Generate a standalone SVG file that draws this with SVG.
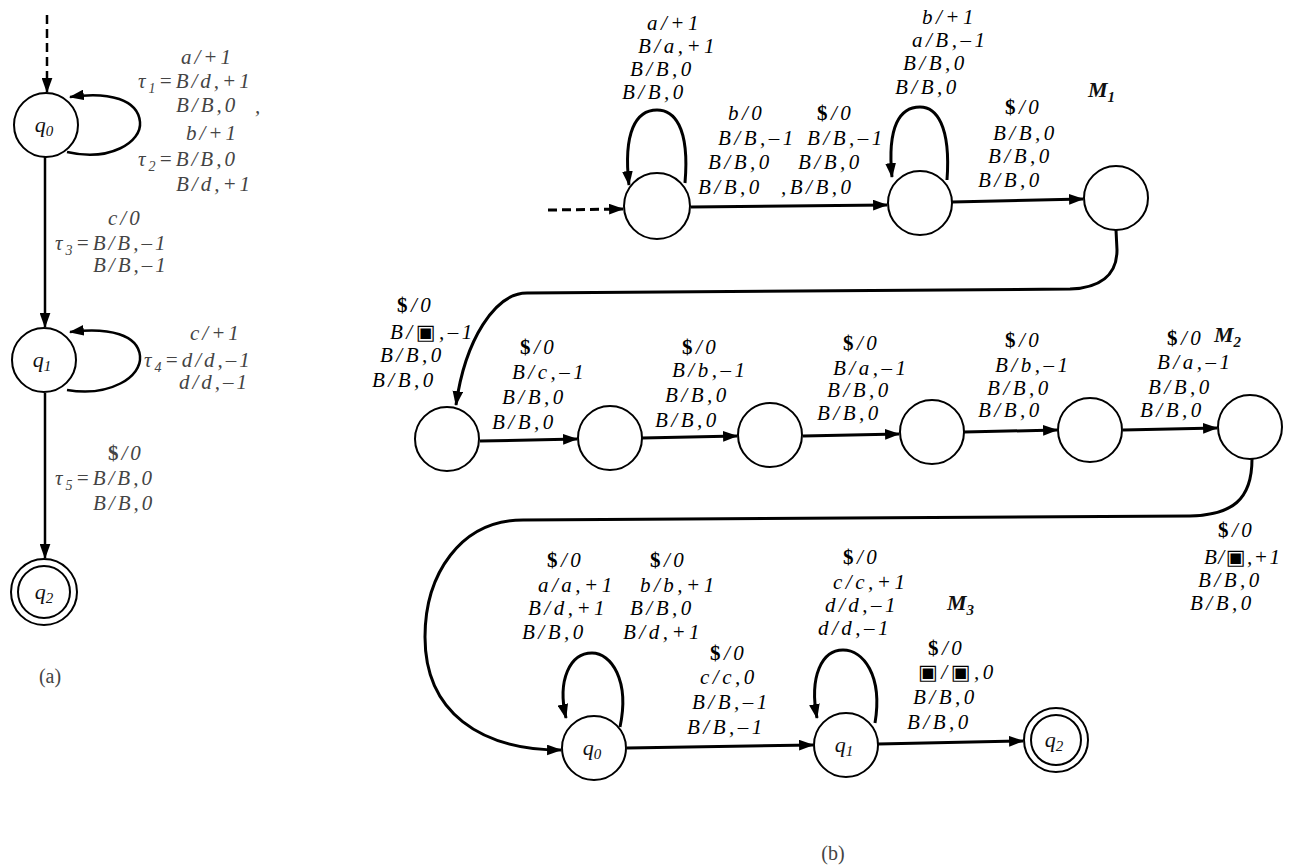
<svg xmlns="http://www.w3.org/2000/svg" width="1290" height="865" viewBox="0 0 1290 865">
<style>
.t{font-family:"Liberation Serif","DejaVu Serif",serif;font-style:italic;font-size:21px;letter-spacing:3.5px;fill:#000}
.ta{font-family:"Liberation Serif","DejaVu Serif",serif;font-style:italic;font-size:21px;letter-spacing:3px;fill:#444}
.s{font-style:normal;font-weight:bold}
.nl{font-family:"Liberation Serif","DejaVu Serif",serif;font-style:italic;font-size:22px;fill:#111;text-anchor:middle}
.m{font-family:"Liberation Serif","DejaVu Serif",serif;font-style:italic;font-weight:bold;font-size:22px;fill:#111}
.cap{font-family:"Liberation Serif","DejaVu Serif",serif;font-size:20px;fill:#444;text-anchor:middle}
.n{fill:#fff;stroke:#000;stroke-width:2}
.e{fill:none;stroke:#000;stroke-width:3;marker-end:url(#ah)}
.ea{fill:none;stroke:#000;stroke-width:2.5;marker-end:url(#ah)}
.d{stroke-dasharray:9,5}
</style>
<defs>
<marker id="ah" viewBox="0 0 14 10" refX="13" refY="5" markerWidth="15" markerHeight="11" orient="auto" markerUnits="userSpaceOnUse"><path d="M0,0 L14,5 L0,10 z" fill="#000"/></marker>
</defs>
<rect width="1290" height="865" fill="#fff"/>

<g id="connectors">
<path class="ea d" d="M47,15 L47,92"/>
<path class="ea" d="M67,152 C110,162 142,142 140,122 C138,100 110,91 70,97"/>
<path class="ea" d="M45,157 L45,327"/>
<path class="ea" d="M67,390 C110,397 142,377 140,356 C138,335 110,327 70,332"/>
<path class="ea" d="M45,393 L45,558"/>
<path class="e d" d="M548,210 L623,209"/>
<path class="e" d="M685,183 C690,125 673,110 657,110 C636,110 623,132 629,185"/>
<path class="e" d="M691,207 L887,205"/>
<path class="e" d="M947,180 C951,125 936,107 920,107 C900,107 887,126 892,177"/>
<path class="e" d="M952,202 L1083,199"/>
<path class="e" d="M1116,230 L1117,250 C1117,275 1100,288 1070,289 L527,293 C495,293 465,340 456,405"/>
<path class="e" d="M480,441 L577,439"/>
<path class="e" d="M642,438 L737,436"/>
<path class="e" d="M803,436 L899,434"/>
<path class="e" d="M964,432 L1057,430"/>
<path class="e" d="M1123,430 L1217,428"/>
<path class="e" d="M1252,459 C1252,500 1232,515 1190,516 L523,520 C460,520 425,575 425,637 C425,712 480,750 561,750"/>
<path class="e" d="M620,727 C630,680 611,653 592,653 C570,653 557,680 566,718"/>
<path class="e" d="M627,748 L813,745"/>
<path class="e" d="M875,723 C883,675 863,650 843,650 C822,650 809,676 817,718"/>
<path class="e" d="M878,744 L1023,741"/>
</g>

<g id="labels-a">
<text class="ta" x="181" y="64">a/+1</text>
<text class="ta" x="138" y="88">τ<tspan dy="5" font-size="14">1</tspan><tspan dy="-5">=B/d,+1</tspan></text>
<text class="ta" x="176" y="112">B/B,0</text>
<text class="ta" x="255" y="113">,</text>
<text class="ta" x="186" y="140">b/+1</text>
<text class="ta" x="138" y="166">τ<tspan dy="5" font-size="14">2</tspan><tspan dy="-5">=B/B,0</tspan></text>
<text class="ta" x="176" y="191">B/d,+1</text>
<text class="ta" x="108" y="225">c/0</text>
<text class="ta" x="55" y="250">τ<tspan dy="5" font-size="14">3</tspan><tspan dy="-5">=B/B,–1</tspan></text>
<text class="ta" x="93" y="272">B/B,–1</text>
<text class="ta" x="190" y="340">c/+1</text>
<text class="ta" x="144" y="367">τ<tspan dy="5" font-size="14">4</tspan><tspan dy="-5">=d/d,–1</tspan></text>
<text class="ta" x="179" y="389">d/d,–1</text>
<text class="ta" x="108" y="460"><tspan class="s">$</tspan>/0</text>
<text class="ta" x="55" y="485">τ<tspan dy="5" font-size="14">5</tspan><tspan dy="-5">=B/B,0</tspan></text>
<text class="ta" x="93" y="510">B/B,0</text>
<text class="cap" x="50" y="683">(a)</text>
</g>

<g id="labels-b">
<text class="t" x="647" y="30">a/+1</text>
<text class="t" x="638" y="53">B/a,+1</text>
<text class="t" x="630" y="76">B/B,0</text>
<text class="t" x="622" y="99">B/B,0</text>

<text class="t" x="728" y="120">b/0</text>
<text class="t" x="718" y="145">B/B,–1</text>
<text class="t" x="708" y="169">B/B,0</text>
<text class="t" x="698" y="194">B/B,0</text>
<text class="t" x="817" y="120"><tspan class="s">$</tspan>/0</text>
<text class="t" x="807" y="145">B/B,–1</text>
<text class="t" x="798" y="169">B/B,0</text>
<text class="t" x="781" y="194">,B/B,0</text>

<text class="t" x="922" y="24">b/+1</text>
<text class="t" x="912" y="47">a/B,–1</text>
<text class="t" x="903" y="70">B/B,0</text>
<text class="t" x="895" y="94">B/B,0</text>
<text class="m" x="1088" y="97">M<tspan dy="5" font-size="15">1</tspan></text>

<text class="t" x="1005" y="114"><tspan class="s">$</tspan>/0</text>
<text class="t" x="993" y="140">B/B,0</text>
<text class="t" x="988" y="163">B/B,0</text>
<text class="t" x="978" y="187">B/B,0</text>

<text class="t" x="397" y="312"><tspan class="s">$</tspan>/0</text>
<text class="t" x="390" y="339">B/▣,–1</text>
<text class="t" x="380" y="362">B/B,0</text>
<text class="t" x="372" y="387">B/B,0</text>

<text class="t" x="520" y="354"><tspan class="s">$</tspan>/0</text>
<text class="t" x="512" y="379">B/c,–1</text>
<text class="t" x="502" y="404">B/B,0</text>
<text class="t" x="492" y="429">B/B,0</text>

<text class="t" x="682" y="354"><tspan class="s">$</tspan>/0</text>
<text class="t" x="672" y="377">B/b,–1</text>
<text class="t" x="665" y="402">B/B,0</text>
<text class="t" x="655" y="427">B/B,0</text>

<text class="t" x="843" y="350"><tspan class="s">$</tspan>/0</text>
<text class="t" x="833" y="375">B/a,–1</text>
<text class="t" x="827" y="397">B/B,0</text>
<text class="t" x="817" y="420">B/B,0</text>

<text class="t" x="1005" y="347"><tspan class="s">$</tspan>/0</text>
<text class="t" x="995" y="372">B/b,–1</text>
<text class="t" x="987" y="395">B/B,0</text>
<text class="t" x="978" y="417">B/B,0</text>

<text class="t" x="1167" y="345"><tspan class="s">$</tspan>/0</text>
<text class="t" x="1157" y="369">B/a,–1</text>
<text class="t" x="1148" y="394">B/B,0</text>
<text class="t" x="1140" y="417">B/B,0</text>
<text class="m" x="1214" y="342">M<tspan dy="5" font-size="15">2</tspan></text>

<text class="t" x="1218" y="537"><tspan class="s">$</tspan>/0</text>
<text class="t" x="1204" y="564" style="letter-spacing:1.5px">B/▣,+1</text>
<text class="t" x="1198" y="587">B/B,0</text>
<text class="t" x="1190" y="610">B/B,0</text>

<text class="t" x="547" y="567"><tspan class="s">$</tspan>/0</text>
<text class="t" x="538" y="592">a/a,+1</text>
<text class="t" x="528" y="615">B/d,+1</text>
<text class="t" x="522" y="639">B/B,0</text>
<text class="t" x="650" y="567"><tspan class="s">$</tspan>/0</text>
<text class="t" x="640" y="592">b/b,+1</text>
<text class="t" x="630" y="615">B/B,0</text>
<text class="t" x="623" y="639">B/d,+1</text>

<text class="t" x="710" y="660"><tspan class="s">$</tspan>/0</text>
<text class="t" x="700" y="684">c/c,0</text>
<text class="t" x="692" y="709">B/B,–1</text>
<text class="t" x="687" y="734">B/B,–1</text>

<text class="t" x="843" y="564"><tspan class="s">$</tspan>/0</text>
<text class="t" x="833" y="589">c/c,+1</text>
<text class="t" x="825" y="612">d/d,–1</text>
<text class="t" x="818" y="635">d/d,–1</text>
<text class="m" x="947" y="610">M<tspan dy="5" font-size="15">3</tspan></text>

<text class="t" x="928" y="655"><tspan class="s">$</tspan>/0</text>
<text class="t" x="918" y="679">▣/▣,0</text>
<text class="t" x="913" y="704">B/B,0</text>
<text class="t" x="907" y="729">B/B,0</text>
<text class="cap" x="833" y="860">(b)</text>
</g>

<g id="a-q0"><circle class="n" cx="46" cy="125" r="32"/><text class="nl" x="44" y="132" fill="#444">q<tspan dy="4" font-size="15">0</tspan></text></g>
<g id="a-q1"><circle class="n" cx="44" cy="360" r="32"/><text class="nl" x="42" y="367">q<tspan dy="4" font-size="15">1</tspan></text></g>
<g id="a-q2"><circle class="n" cx="44" cy="592" r="33"/><circle class="n" cx="44" cy="592" r="26"/><text class="nl" x="44" y="599">q<tspan dy="4" font-size="15">2</tspan></text></g>
<g id="b-n1"><circle class="n" cx="657" cy="206" r="33"/></g>
<g id="b-n2"><circle class="n" cx="920" cy="203" r="32"/></g>
<g id="b-n3"><circle class="n" cx="1116" cy="198" r="32"/></g>
<g id="b-r1"><circle class="n" cx="447" cy="439" r="32"/></g>
<g id="b-r2"><circle class="n" cx="610" cy="438" r="32"/></g>
<g id="b-r3"><circle class="n" cx="770" cy="435" r="32"/></g>
<g id="b-r4"><circle class="n" cx="932" cy="432" r="32"/></g>
<g id="b-r5"><circle class="n" cx="1090" cy="430" r="32"/></g>
<g id="b-r6"><circle class="n" cx="1250" cy="427" r="32"/></g>
<g id="b-q0"><circle class="n" cx="594" cy="748" r="32"/><text class="nl" x="592" y="755">q<tspan dy="4" font-size="15">0</tspan></text></g>
<g id="b-q1"><circle class="n" cx="846" cy="745" r="32"/><text class="nl" x="844" y="752">q<tspan dy="4" font-size="15">1</tspan></text></g>
<g id="b-q2"><circle class="n" cx="1056" cy="740" r="32"/><circle class="n" cx="1056" cy="740" r="25"/><text class="nl" x="1054" y="747">q<tspan dy="4" font-size="15">2</tspan></text></g>
</svg>
